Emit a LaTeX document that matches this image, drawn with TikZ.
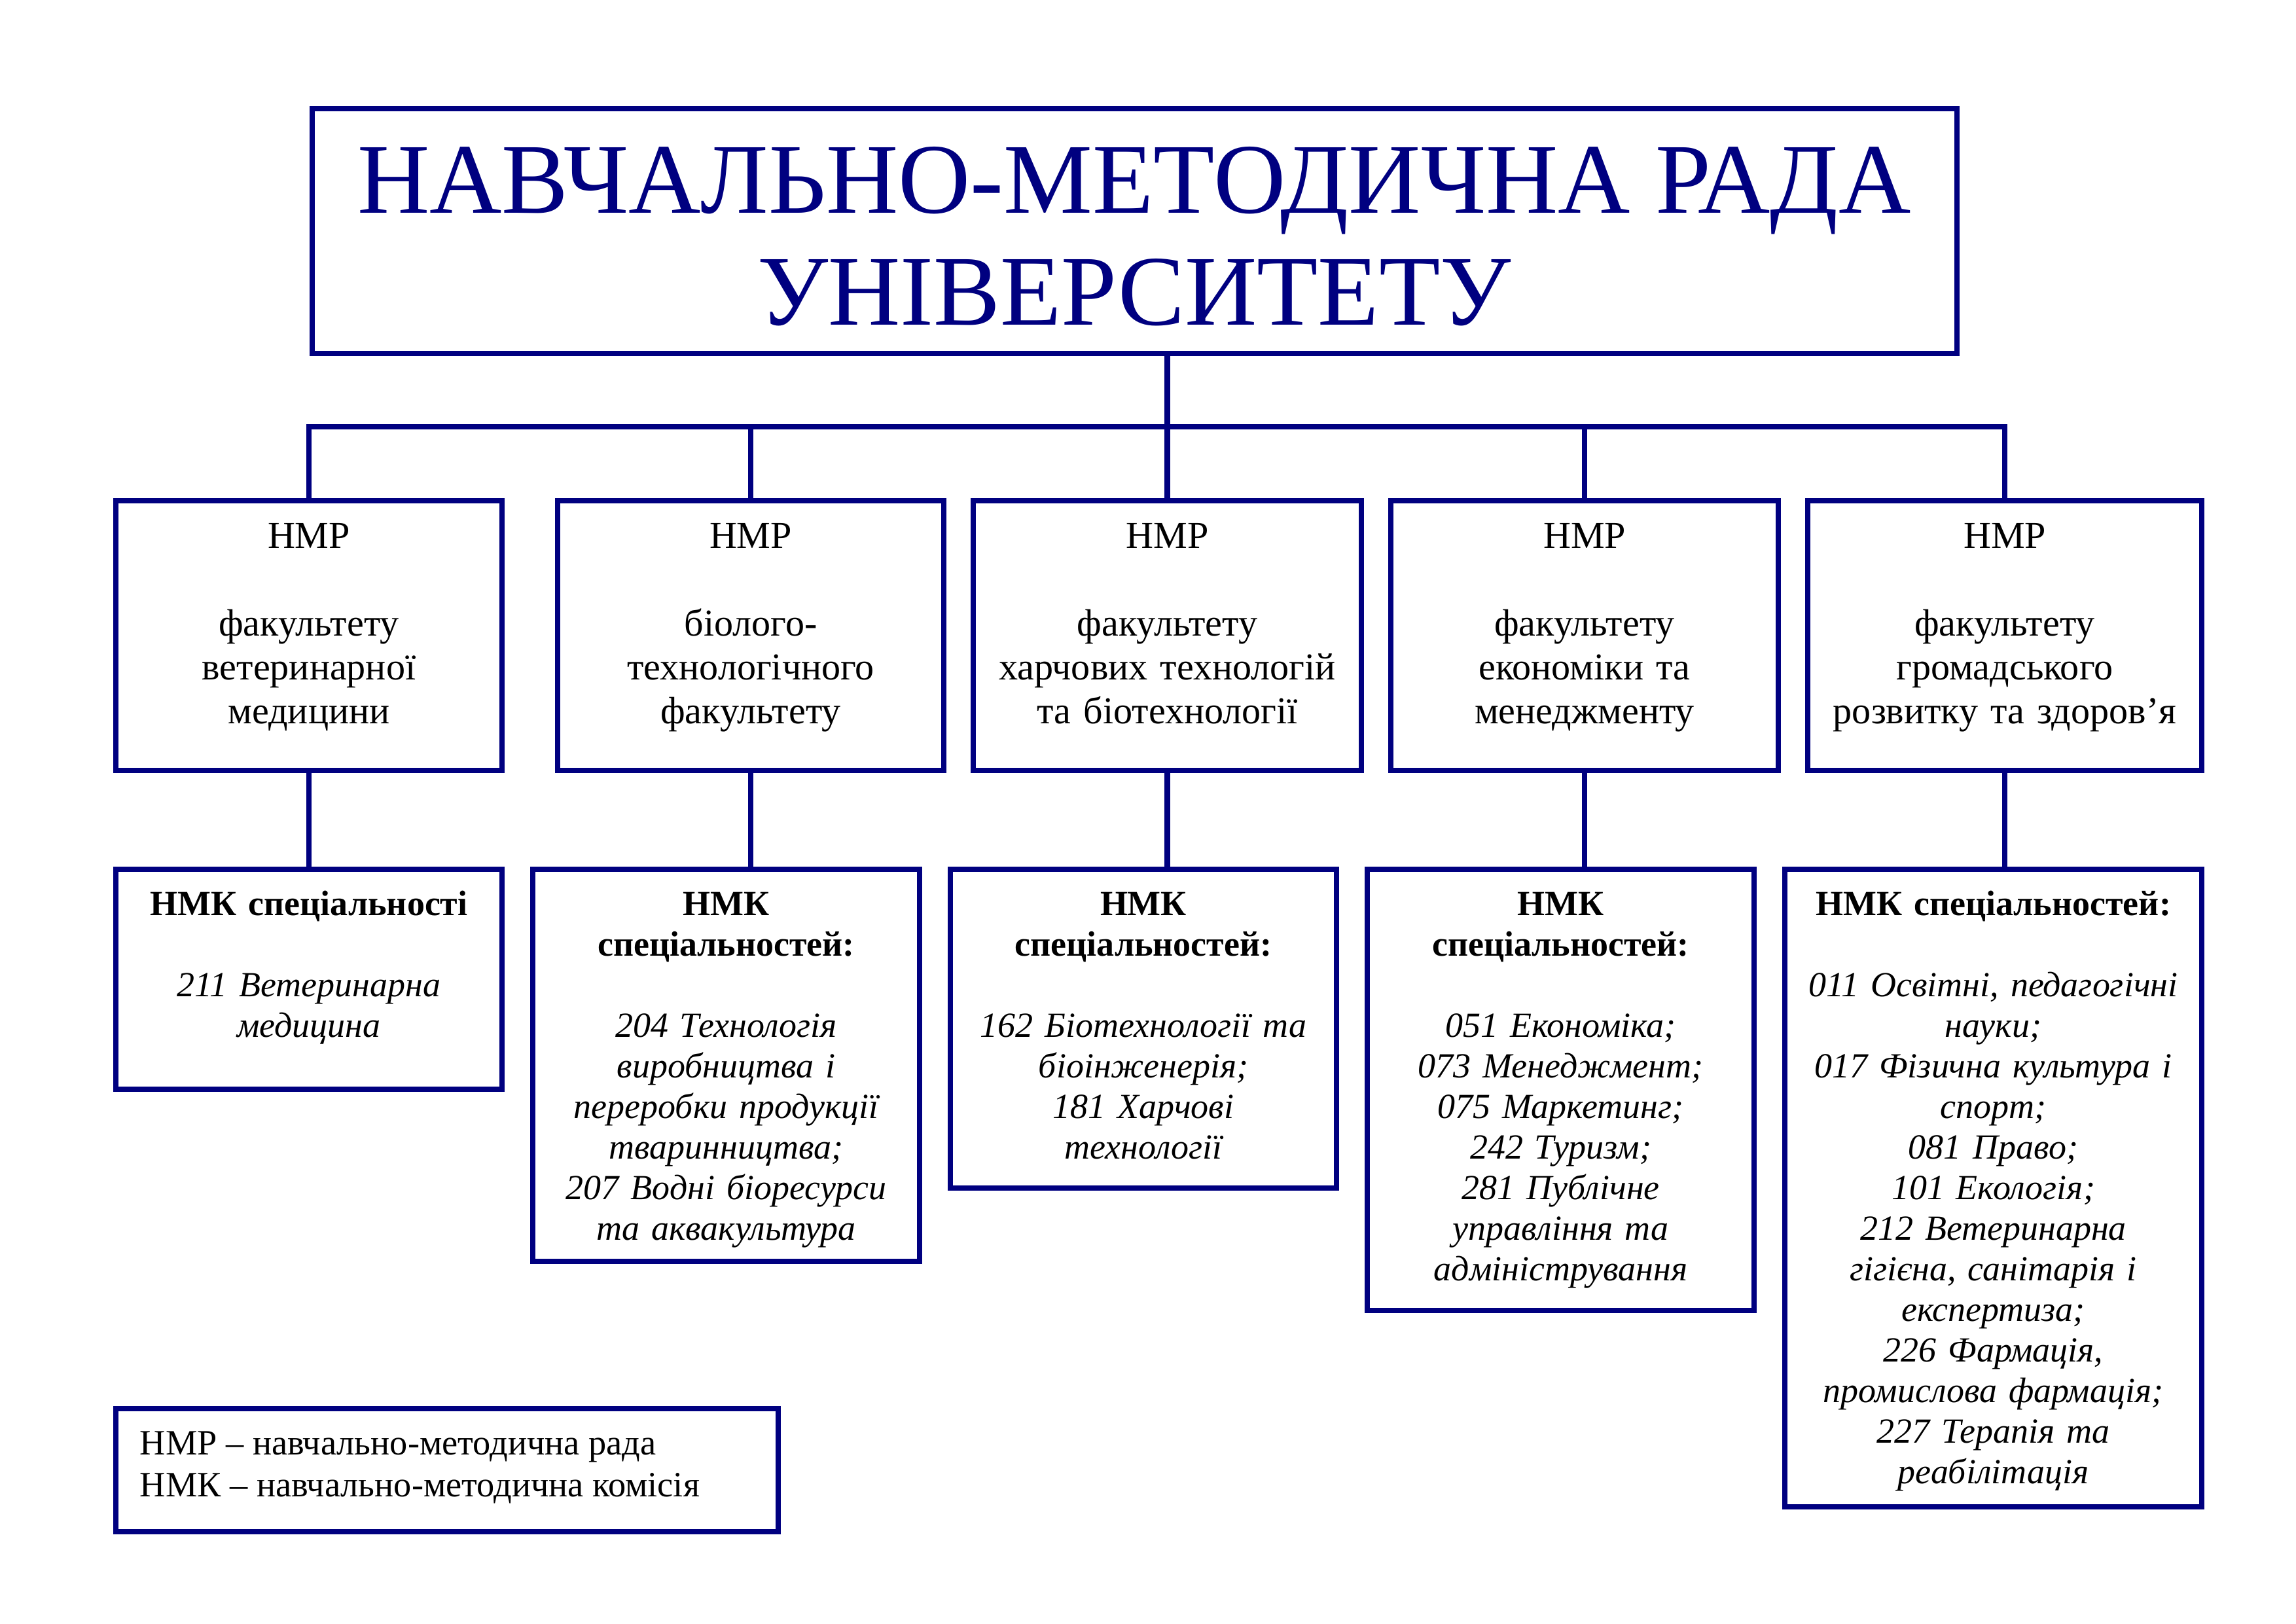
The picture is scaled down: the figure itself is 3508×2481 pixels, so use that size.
\documentclass[tikz,border=0pt]{standalone}
\usepackage{fontspec}
\setmainfont{Liberation Serif}
\usetikzlibrary{fit}
\definecolor{navyblue}{RGB}{0,0,128}
\begin{document}
\begin{tikzpicture}[x=0.0846636mm, y=-0.0846636mm,
  box/.style={draw=navyblue, line width=1.95pt, inner sep=0pt, outer sep=0pt},
  conn/.style={draw=navyblue, line width=1.95pt, line join=miter},
  ttl/.style={anchor=base, align=center, inner sep=0pt, text=navyblue, font=\fontsize{36.8}{41.3}\selectfont},
  tone/.style={anchor=base, align=center, inner sep=0pt, text width=48mm, font=\fontsize{14}{16.1}\selectfont},
  ttwo/.style={anchor=base, align=center, inner sep=0pt, text width=48mm, font=\fontsize{13}{14.95}\selectfont},
  ttwowide/.style={ttwo, text width=53mm},
  legtext/.style={anchor=base west, align=left, inner sep=0pt, font=\fontsize{13.1}{15.4}\selectfont}
]
\useasboundingbox (0,0) rectangle (3508,2481);
\coordinate (busy) at (0,652);

% title
\node[box, fit={(477,166) (2990,540)}] (title) {};
\node[ttl] (titletext) at (1733,497) {НАВЧАЛЬНО-МЕТОДИЧНА РАДА\\УНІВЕРСИТЕТУ};

% row 1
\node[box, fit={(177,765) (767,1177)}] (r1a) {};
\node[box, fit={(852,765) (1442,1177)}] (r1b) {};
\node[box, fit={(1487,765) (2080,1177)}] (r1c) {};
\node[box, fit={(2125,765) (2717,1177)}] (r1d) {};
\node[box, fit={(2762,765) (3364,1177)}] (r1e) {};

\node[tone] (t1a) at (472,838) {НМР\\[16.1pt]факультету\\ветеринарної\\медицини};
\node[tone] (t1b) at (1147,838) {НМР\\[16.1pt]біолого-\\технологічного\\факультету};
\node[tone] (t1c) at (1783.5,838) {НМР\\[16.1pt]факультету\\харчових технологій\\та біотехнології};
\node[tone] (t1d) at (2421,838) {НМР\\[16.1pt]факультету\\економіки та\\менеджменту};
\node[tone] (t1e) at (3063,838) {НМР\\[16.1pt]факультету\\громадського\\розвитку та здоров’я};

% row 2
\node[box, fit={(177,1328) (767,1664)}] (r2a) {};
\node[box, fit={(814,1328) (1405,1927)}] (r2b) {};
\node[box, fit={(1452,1328) (2042,1815)}] (r2c) {};
\node[box, fit={(2089,1328) (2680,2002)}] (r2d) {};
\node[box, fit={(2727,1328) (3364,2302)}] (r2e) {};

\node[ttwo] (t2a) at (472,1398) {\textbf{НМК спеціальності}\\[14.95pt]{\itshape 211 Ветеринарна\\медицина}};
\node[ttwo] (t2b) at (1109.5,1398) {\textbf{НМК}\\\textbf{спеціальностей:}\\[14.95pt]{\itshape 204 Технологія\\виробництва і\\переробки продукції\\тваринництва;\\207 Водні біоресурси\\та аквакультура}};
\node[ttwo] (t2c) at (1747,1398) {\textbf{НМК}\\\textbf{спеціальностей:}\\[14.95pt]{\itshape 162 Біотехнології та\\біоінженерія;\\181 Харчові\\технології}};
\node[ttwo] (t2d) at (2384.5,1398) {\textbf{НМК}\\\textbf{спеціальностей:}\\[14.95pt]{\itshape 051 Економіка;\\073 Менеджмент;\\075 Маркетинг;\\242 Туризм;\\281 Публічне\\управління та\\адміністрування}};
\node[ttwowide] (t2e) at (3045.5,1398) {\textbf{НМК спеціальностей:}\\[14.95pt]{\itshape 011 Освітні, педагогічні\\науки;\\017 Фізична культура і\\спорт;\\081 Право;\\101 Екологія;\\212 Ветеринарна\\гігієна, санітарія і\\експертиза;\\226 Фармація,\\промислова фармація;\\227 Терапія та\\реабілітація}};

% legend
\node[box, fit={(177,2152) (1189,2340)}] (legend) {};
\node[legtext] (legendtext) at (213,2286) {НМР – навчально-методична рада\\НМК – навчально-методична комісія};

% connectors
\draw[conn] (title.south -| r1c.north) -- (r1c.north);
\draw[conn] (r1a.north) |- (r1e.north |- busy) -- (r1e.north);
\draw[conn] (r1b.north |- busy) -- (r1b.north);
\draw[conn] (r1d.north |- busy) -- (r1d.north);

\draw[conn] (r1a.south) -- (r1a.south |- r2a.north);
\draw[conn] (r1b.south) -- (r1b.south |- r2b.north);
\draw[conn] (r1c.south) -- (r1c.south |- r2c.north);
\draw[conn] (r1d.south) -- (r1d.south |- r2d.north);
\draw[conn] (r1e.south) -- (r1e.south |- r2e.north);
\end{tikzpicture}
\end{document}
